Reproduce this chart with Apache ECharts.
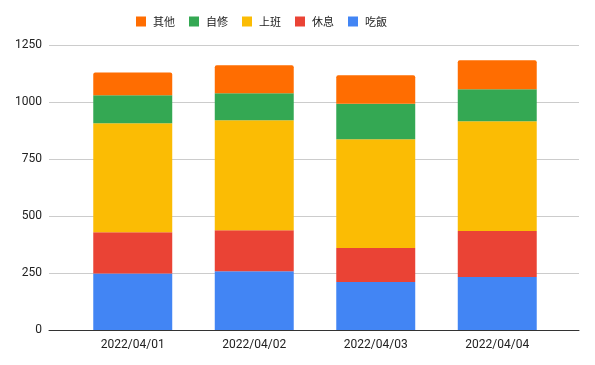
<!DOCTYPE html>
<html><head><meta charset="utf-8">
<script src="https://cdn.jsdelivr.net/npm/echarts@6/dist/echarts.min.js"></script>
<style>html,body{margin:0;padding:0;background:#fff}#c{width:595px;height:365px}</style>
</head><body><div id="c"></div>
<script>
const categories = ['2022/04/01','2022/04/02','2022/04/03','2022/04/04'];
const eat   = [248, 258, 210, 232];   // 吃飯
const rest  = [181, 180, 150, 202];   // 休息
const work  = [478, 482, 477, 482];   // 上班
const study = [123, 118, 155, 140];   // 自修
const other = [99, 123, 125, 127];    // 其他
const yTicks = [0, 250, 500, 750, 1000, 1250];

const names = ['吃飯','休息','上班','自修','其他'];
const values = [eat, rest, work, study, other];
const colors = ['#4285F4','#EA4335','#FBBC04','#34A853','#FF6D01'];
const font = 'Roboto, Arial, "Noto Sans CJK TC", sans-serif';

const series = names.map((n, i) => ({
  name: n, type: 'bar', stack: 'total', data: values[i], barWidth: '65%',
  xAxisIndex: 1, yAxisIndex: 1,
  itemStyle: { color: colors[i], borderRadius: i === names.length - 1 ? [2,2,0,0] : 0 }
}));

const yMin = yTicks[0], yMax = yTicks[yTicks.length-1];
const chart = echarts.init(document.getElementById('c'), null, {renderer: 'canvas'});
chart.setOption({
  animation: false,
  legend: {
    data: ['其他','自修','上班','休息','吃飯'],
    left: 131, top: 11, itemWidth: 10, itemHeight: 10, itemGap: 14,
    icon: 'rect',
    textStyle: { fontFamily: '"Noto Sans CJK TC", sans-serif', fontSize: 11, color: '#222', padding: [0,0,0,2] }
  },
  grid: [
    { left: 49, right: 16, top: 45, bottom: 35 },
    { left: 72, right: 37, top: 45, bottom: 35 }
  ],
  xAxis: [
    { type: 'category', gridIndex: 0, data: [''],
      axisLine: { lineStyle: { color: '#333' } }, axisTick: { show: false },
      axisLabel: { show: false }, splitLine: { show: false } },
    { type: 'category', gridIndex: 1, data: categories,
      axisLine: { show: false }, axisTick: { show: false },
      axisLabel: { fontFamily: font, fontSize: 12, color: '#222', margin: 9 } }
  ],
  yAxis: [
    { type: 'value', gridIndex: 0, min: yMin, max: yMax, interval: 250,
      axisLine: { show: false }, axisTick: { show: false },
      axisLabel: { fontFamily: font, fontSize: 12, color: '#222', margin: 7, formatter: v => String(v) },
      splitLine: { lineStyle: { color: '#ccc' } } },
    { type: 'value', gridIndex: 1, min: yMin, max: yMax, interval: 250, show: false,
      splitLine: { show: false } }
  ],
  series: series
});
</script></body></html>
